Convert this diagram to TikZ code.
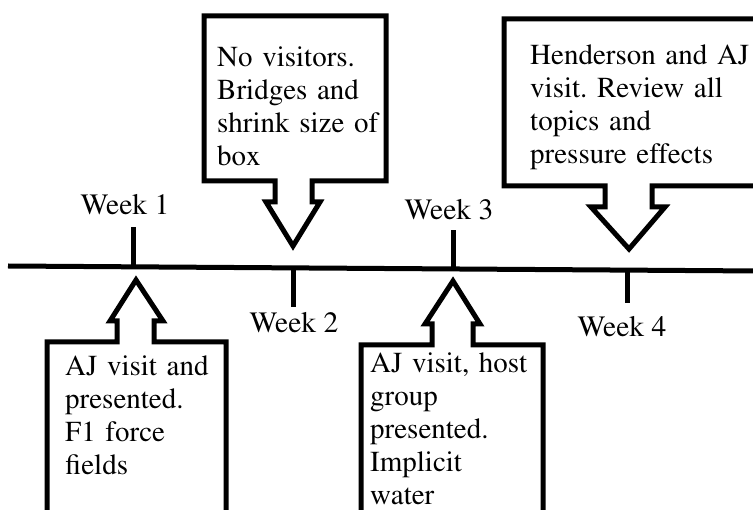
\documentclass[tikz,border=0pt]{standalone}
\usepackage[T1]{fontenc}
\usepackage{times}
\usetikzlibrary{positioning}
\frenchspacing

\begin{document}
\begin{tikzpicture}[x=1pt, y=-1pt,
  callout/.style={draw=black, line width=5pt, miter limit=10, fill=white},
  tickline/.style={draw=black, line width=5pt},
  note/.style={anchor=base west, inner sep=0pt, text width=250pt, align=left, font=\fontsize{29}{33}\selectfont},
  week/.style={anchor=base, inner sep=0pt, font=\fontsize{29.5}{33}\selectfont}
  ]
  \useasboundingbox (0,0) rectangle (753,510);
  \clip (0,0) rectangle (753,510);

  % timeline
  \coordinate (line-l) at (8,266);
  \coordinate (line-r) at (760,271);
  \draw[tickline] (line-l) -- (line-r);

  \coordinate (t1) at (133,266.8);
  \coordinate (t1-end) at (133,227);
  \coordinate (t2) at (293,267.9);
  \coordinate (t2-end) at (293,307);
  \coordinate (t3) at (453,269);
  \coordinate (t3-end) at (453,230);
  \coordinate (t4) at (627,270.1);
  \coordinate (t4-end) at (627,303);
  \foreach \i in {1,...,4}
    \draw[tickline] (t\i) -- (t\i-end);

  \node[week] (wk1) at (125,215) {Week 1};
  \node[week] (wk2) at (294,333) {Week 2};
  \node[week] (wk3) at (449,220) {Week 3};
  \node[week] (wk4) at (622,337) {Week 4};

  % callouts above the line
  \draw[callout] (204,181) -- (204,16) -- (386,16) -- (386,181) -- (312,181) -- (312,202)
    -- (320,202) -- (293,246) -- (266,202) -- (275,202) -- (275,181) -- cycle;
  \node[note] (note2) at (217,67) {No visitors.\\ Bridges and\\ shrink size of\\ box};

  \draw[callout] (504,186) -- (504,19) -- (775,19) -- (775,186) -- (652,186) -- (652,207)
    -- (665,207) -- (629,249) -- (591,207) -- (605,207) -- (605,186) -- cycle;
  \node[note] (note4) at (530,65) {Henderson and AJ\\ visit. Review all\\ topics and\\ pressure effects};

  % callouts below the line
  \draw[callout] (47,530) -- (47,342) -- (117,342) -- (117,321) -- (110,321) -- (136,280)
    -- (163,321) -- (154,321) -- (154,342) -- (226,342) -- (226,530);
  \node[note] (note1) at (65,376) {AJ visit and\\ presented.\\ F1 force\\ fields};

  \draw[callout] (361,530) -- (361,345) -- (432,345) -- (432,324) -- (425,324) -- (453,281)
    -- (480,324) -- (473,324) -- (473,345) -- (543,345) -- (543,530);
  \node[note] (note3) at (370,373) {AJ visit, host\\ group\\ presented.\\ Implicit\\ water};

\end{tikzpicture}
\end{document}
